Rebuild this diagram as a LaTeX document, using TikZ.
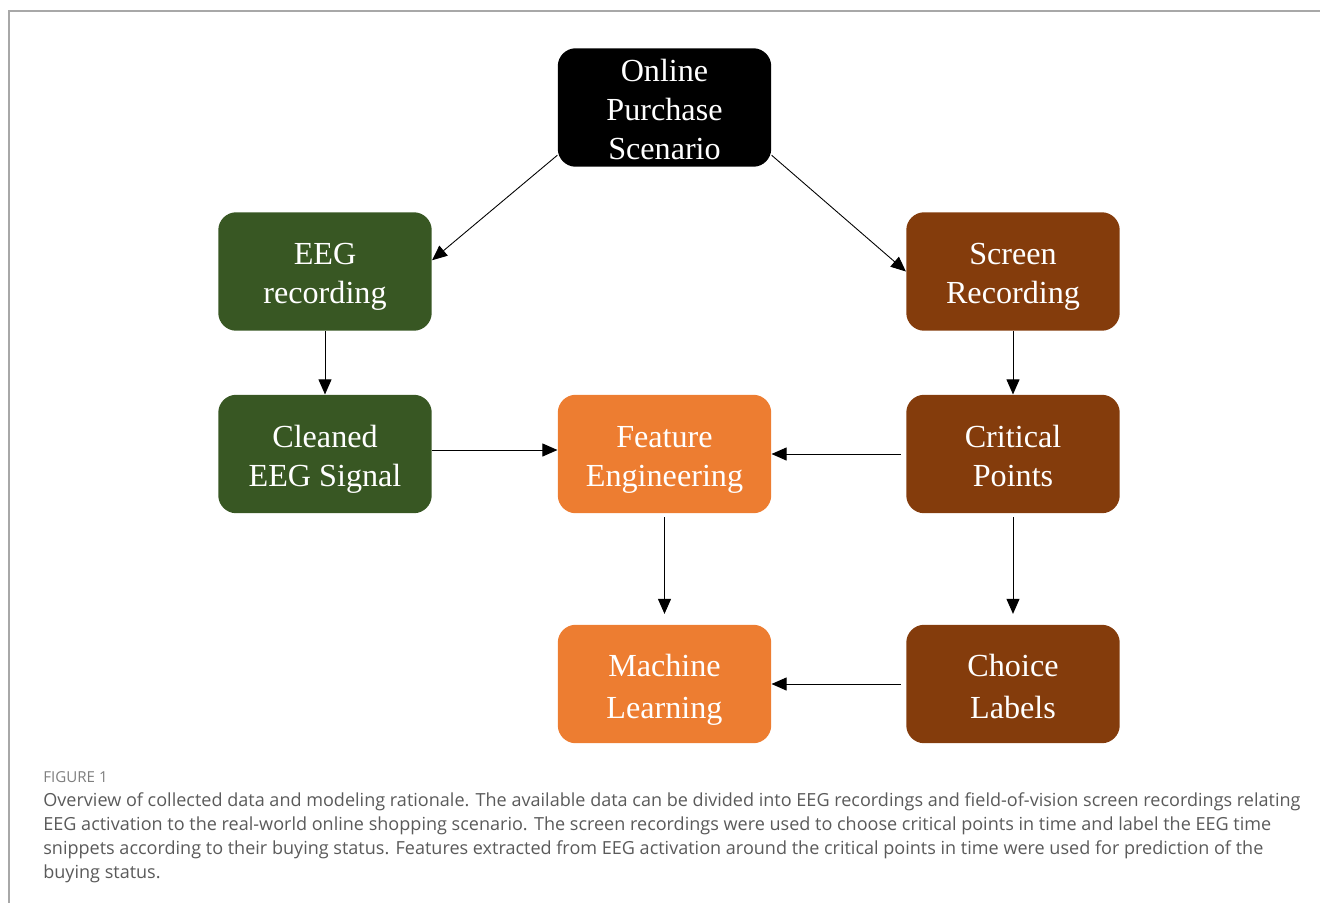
\documentclass[tikz,border=0pt]{standalone}
\usepackage{fontspec}
\setmainfont{Liberation Serif}
\newfontfamily\capfont{Open Sans}
\usetikzlibrary{arrows.meta}
\usetikzlibrary{positioning}
\definecolor{eeggreen}{HTML}{385723}
\definecolor{scrbrown}{HTML}{843C0C}
\definecolor{featorange}{HTML}{ED7D31}
\definecolor{framegray}{HTML}{A8A8A8}
\definecolor{capgray}{HTML}{5A5A5A}
\newcommand{\boxlines}[1]{\raisebox{-7.2pt}[0pt][0pt]{\begin{tabular}{@{}c@{}}#1\end{tabular}}}

\begin{document}
\begin{tikzpicture}[x=0.02cm,y=-0.02cm,
  stagebox/.style={rectangle,rounded corners=0.36cm,minimum width=4.27cm,minimum height=2.37cm,
    text=white,font=\fontsize{18.3}{22.3}\selectfont,inner sep=0pt},
  lowbox/.style={stagebox,font=\fontsize{18.3}{24}\selectfont},
  flow/.style={-{Triangle[length=3mm,width=2.6mm]},black,line width=0.5pt}]
\useasboundingbox (0,0) rectangle (1320,903);
\draw[framegray,line width=1pt] (9,903) -- (9,11) -- (1320,11);

\node[stagebox,fill=black] (online) at (664.5,107.5) {\boxlines{Online\\Purchase\\Scenario}};
\node[stagebox,fill=eeggreen] (eegrec) at (325,271.5) {\boxlines{EEG\\recording}};
\node[stagebox,fill=scrbrown] (screenrec) at (1013,271.5) {\boxlines{Screen\\Recording}};
\node[stagebox,fill=eeggreen] (cleaned) at (325,454) {\boxlines{Cleaned\\EEG Signal}};
\node[stagebox,fill=featorange] (feature) at (664.5,454) {\boxlines{Feature\\Engineering}};
\node[stagebox,fill=scrbrown] (critical) at (1013,454) {\boxlines{Critical\\Points}};
\node[lowbox,fill=featorange] (machine) at (664.5,684) {\boxlines{Machine\\Learning}};
\node[lowbox,fill=scrbrown] (choice) at (1013,684) {\boxlines{Choice\\Labels}};

\draw[flow] (online.204) -- (eegrec.6);
\draw[flow] (online.-24) -- (screenrec.west);
\draw[flow] (eegrec) -- (cleaned);
\draw[flow] (screenrec) -- (critical);
\draw[flow] ([yshift=0.08cm]cleaned.east) -- ([yshift=0.08cm]feature.west);
\draw[flow,shorten <=3pt] (critical) -- (feature);
\draw[flow,shorten <=2pt,shorten >=6pt] (feature) -- (machine);
\draw[flow,shorten <=2pt,shorten >=6pt] (critical) -- (choice);
\draw[flow,shorten <=3pt] (choice) -- (machine);

\node[anchor=base west,inner sep=0pt,text=framegray!75!black,font=\capfont\fontsize{8.6}{10}\selectfont] (figlabel) at (43,782) {FIGURE 1};
\node[anchor=north west,inner sep=0pt,text=capgray,align=left,font=\capfont\fontsize{10.27}{13.66}\selectfont] (caption) at (43,792)
{Overview of collected data and modeling rationale. The available data can be divided into EEG recordings and field-of-vision screen recordings relating\\
EEG activation to the real-world online shopping scenario. The screen recordings were used to choose critical points in time and label the EEG time\\
snippets according to their buying status. Features extracted from EEG activation around the critical points in time were used for prediction of the\\
buying status.};

\end{tikzpicture}
\end{document}
